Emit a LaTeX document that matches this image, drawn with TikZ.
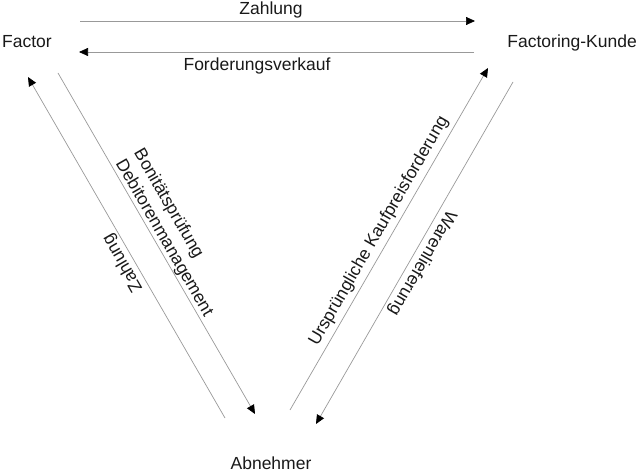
\documentclass[tikz,border=0pt]{standalone}
\usepackage{fontspec}
\setmainfont{Liberation Sans}
\usetikzlibrary{arrows.meta}
\begin{document}
\begin{tikzpicture}[x=1pt,y=-1pt,
  conn/.style={draw=black!40, line width=0.7pt, -{Triangle[length=9pt,width=8pt,color=black]}},
  txt/.style={font=\fontsize{17.5}{21}\selectfont, inner sep=0pt, text=black!90}]
\useasboundingbox (0,0) rectangle (640,473);
% entities
\node[txt, anchor=base west] (factor) at (2,48) {Factor};
\node[txt, anchor=base east] (kunde) at (637,48) {Factoring-Kunde};
\node[txt, anchor=base] (abnehmer) at (271,469) {Abnehmer};
% endpoints
\coordinate (a1) at (80,21);  \coordinate (a2) at (475,21);
\coordinate (b1) at (474,52); \coordinate (b2) at (79,52);
\coordinate (c1) at (225,418); \coordinate (c2) at (28,77);
\coordinate (d1) at (58,73);  \coordinate (d2) at (255,414);
\coordinate (e1) at (290,410); \coordinate (e2) at (488,68);
\coordinate (f1) at (513,82); \coordinate (f2) at (316,424);
% connectors
\draw[conn] (a1) -- (a2);
\draw[conn] (b1) -- (b2);
\draw[conn] (c1) -- (c2);
\draw[conn] (d1) -- (d2);
\draw[conn] (e1) -- (e2);
\draw[conn] (f1) -- (f2);
% labels
\node[txt, anchor=base] (l1) at (271,15) {Zahlung};
\node[txt, anchor=base] (l2) at (257,71) {Forderungsverkauf};
\node[txt, rotate=120] (l3) at (123,263) {Zahlung};
\node[txt, rotate=-60, align=left] (l4) at (173,233) {Bonitätsprüfung\\Debitorenmanagement};
\node[txt, rotate=60] (l5) at (379,231) {Ursprüngliche Kaufpreisforderung};
\node[txt, rotate=240] (l6) at (422,263) {Warenlieferung};
\end{tikzpicture}
\end{document}
